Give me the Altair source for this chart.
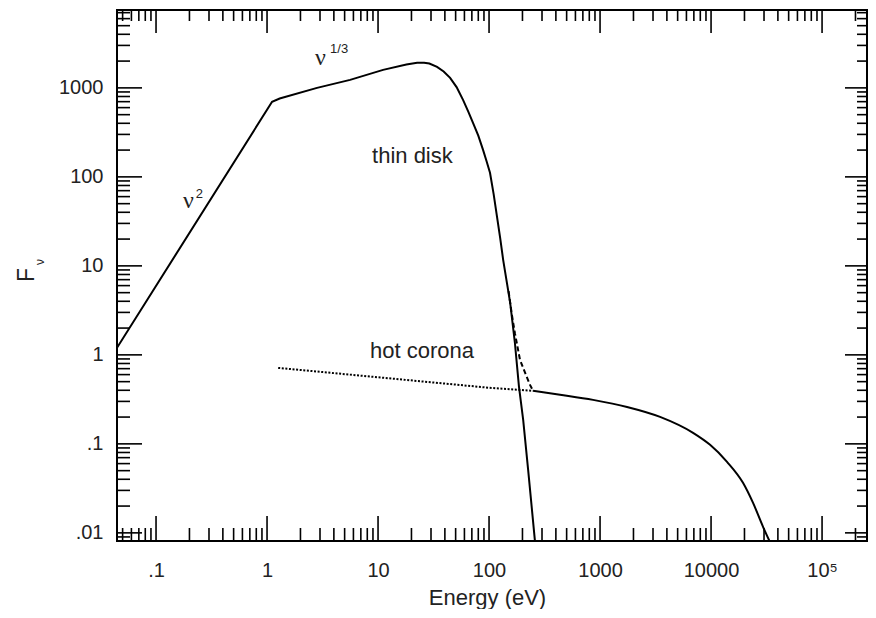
import altair as alt
import pandas as pd

# ---------------- data ----------------
# thin disk spectrum (solid)
disk_E = [0.0445, 1.11, 1.3, 2.82, 5.6, 11.1, 18.0, 22.5, 26.0, 29.0, 34.0, 39.0, 44.6, 51.0,
          58.3, 65.0, 71.7, 80.0, 88.3, 95.0, 102, 110, 118, 126, 134, 145, 155, 171, 186, 203, 225, 262]
disk_F = [1.2, 697, 760, 1000, 1230, 1593, 1830, 1910, 1920, 1880, 1720, 1530, 1296, 1020,
          733, 540, 404, 290, 201, 150, 111, 64, 35.6, 20.5, 11.7, 6.4, 3.84, 1.36, 0.44, 0.186, 0.051, 0.007]

# hot corona hidden under the disk (dotted)
cor_hidden_E = [1.26, 10, 100, 249]
cor_hidden_F = [0.714, 0.56, 0.427, 0.394]

# hot corona visible part (solid)
cor_E = [249, 436, 865, 1750, 3473, 6886, 9800, 13930, 19400, 23900, 29400, 35500]
cor_F = [0.394, 0.356, 0.312, 0.26, 0.201, 0.133, 0.0975, 0.0628, 0.0365, 0.0217, 0.0117, 0.007]

# total (disk + corona) where they merge (dashed)
sum_E = [150, 160, 171, 190, 211, 234, 249]
sum_F = [5.2, 2.9, 1.75, 0.88, 0.63, 0.46, 0.394]

# axes
X_DOMAIN = [0.0445, 254000]
Y_DOMAIN = [0.0081, 7500]
X_MAJOR = [0.1, 1, 10, 100, 1000, 10000, 100000]
X_LABELS = [".1", "1", "10", "100", "1000", "10000", "10\u2075"]
Y_MAJOR = [0.01, 0.1, 1, 10, 100, 1000]
Y_LABELS = [".01", ".1", "1", "10", "100", "1000"]
X_MINOR = [m * d for d in [0.01, 0.1, 1, 10, 100, 1000, 10000, 100000] for m in range(2, 10)
           if X_DOMAIN[0] < m * d < X_DOMAIN[1]]
Y_MINOR = [m * d for d in [0.001, 0.01, 0.1, 1, 10, 100, 1000] for m in range(2, 10)
           if Y_DOMAIN[0] < m * d < Y_DOMAIN[1]]

# annotations (position in data coordinates)
ann_text = ["thin disk", "hot corona"]
ann_E = [8.83, 8.47]
ann_F = [143.6, 0.925]

nu_E = [0.175, 2.71]
nu_F = [44.9, 1811]
sup_text = ["2", "1/3"]
sup_E = [0.228, 3.70]
sup_F = [58.0, 2472]

W, H = 750, 531
FONT = "Liberation Sans"

xs = alt.Scale(type="log", domain=X_DOMAIN, nice=False)
ys = alt.Scale(type="log", domain=Y_DOMAIN, nice=False)


def label_expr(vals, labs):
    return "".join(f"abs(datum.value-{v})<{v * 1e-6} ? '{l}' : " for v, l in zip(vals, labs)) + "''"


XAXIS = alt.Axis(
    values=X_MAJOR, labelExpr=label_expr(X_MAJOR, X_LABELS), ticks=False, domain=False,
    grid=False, labelFont=FONT, labelFontSize=20, labelFontWeight="normal", labelPadding=19,
    labelColor="#222", labelOverlap=False, labelFlush=False, labelBound=False,
    title="Energy (eV)", titleFont=FONT, titleFontSize=22, titleFontWeight="normal",
    titleColor="#222", titleX=370, titleY=63, titleBaseline="alphabetic", titleAlign="center")
YAXIS = alt.Axis(
    values=Y_MAJOR, labelExpr=label_expr(Y_MAJOR, Y_LABELS), ticks=False, domain=False,
    grid=False, labelFont=FONT, labelFontSize=20, labelFontWeight="normal", labelPadding=14,
    labelColor="#222", labelOverlap=False, labelFlush=False, labelBound=False, title="")


def X(field="E"):
    return alt.X(f"{field}:Q", scale=xs, axis=XAXIS, title="Energy (eV)")


def Y(field="F"):
    return alt.Y(f"{field}:Q", scale=ys, axis=YAXIS, title="")


def curve(E, F, dash=None, interp="linear"):
    df = pd.DataFrame({"E": E, "F": F, "o": range(len(E))})
    kw = dict(color="black", strokeWidth=2, clip=True, interpolate=interp)
    if dash:
        kw["strokeDash"] = dash
    return alt.Chart(df).mark_line(**kw).encode(x=X(), y=Y(), order="o:Q")


def xticks(vals, length):
    df = pd.DataFrame({"E": vals})
    b = alt.Chart(df).mark_rule(color="black", strokeWidth=1.6)
    bottom = b.encode(x=X(), y=alt.value(H), y2=alt.value(H - length))
    top = b.encode(x=X(), y=alt.value(0), y2=alt.value(length - 2))
    return bottom + top


def yticks(vals, length):
    df = pd.DataFrame({"F": vals})
    b = alt.Chart(df).mark_rule(color="black", strokeWidth=1.6)
    left = b.encode(y=Y(), x=alt.value(0), x2=alt.value(length))
    right = b.encode(y=Y(), x=alt.value(W), x2=alt.value(W - length + 3))
    return left + right


ann = alt.Chart(pd.DataFrame({"E": ann_E, "F": ann_F, "t": ann_text})).mark_text(
    font=FONT, fontSize=22, align="left", baseline="alphabetic", color="#222"
).encode(x=X(), y=Y(), text="t:N")

nu = alt.Chart(pd.DataFrame({"E": nu_E, "F": nu_F, "t": ["\u03bd", "\u03bd"]})).mark_text(
    font="Liberation Serif", fontSize=24, align="left", baseline="alphabetic", color="#222"
).encode(x=X(), y=Y(), text="t:N")

sup = alt.Chart(pd.DataFrame({"E": sup_E, "F": sup_F, "t": sup_text})).mark_text(
    font=FONT, fontSize=13, align="left", baseline="alphabetic", color="#222"
).encode(x=X(), y=Y(), text="t:N")

ytitle = alt.Chart(pd.DataFrame({"t": ["F"]})).mark_text(
    font=FONT, fontSize=23, angle=270, align="center", baseline="middle", color="#222"
).encode(x=alt.value(-90), y=alt.value(265), text="t:N")

ysub = alt.Chart(pd.DataFrame({"t": ["\u03bd"]})).mark_text(
    font=FONT, fontSize=12, angle=270, align="center", baseline="middle", color="#222"
).encode(x=alt.value(-77), y=alt.value(252), text="t:N")

chart = alt.layer(
    xticks(X_MAJOR, 25), xticks(X_MINOR, 13),
    yticks(Y_MAJOR, 25), yticks(Y_MINOR, 13),
    curve(cor_hidden_E, cor_hidden_F, dash=[2, 1.6]),
    curve(sum_E, sum_F, dash=[5, 3]),
    curve(disk_E, disk_F),
    curve(cor_E, cor_F, interp="monotone"),
    ann, nu, sup, ytitle, ysub,
).properties(
    width=W, height=H,
    padding={"left": 109, "top": 2, "right": 1, "bottom": 68},
    autosize=alt.AutoSizeParams(type="none"),
    background="white",
).configure_view(
    stroke="black", strokeWidth=2
)

chart.save("out.html", embed_options={"renderer": "svg", "actions": False})
